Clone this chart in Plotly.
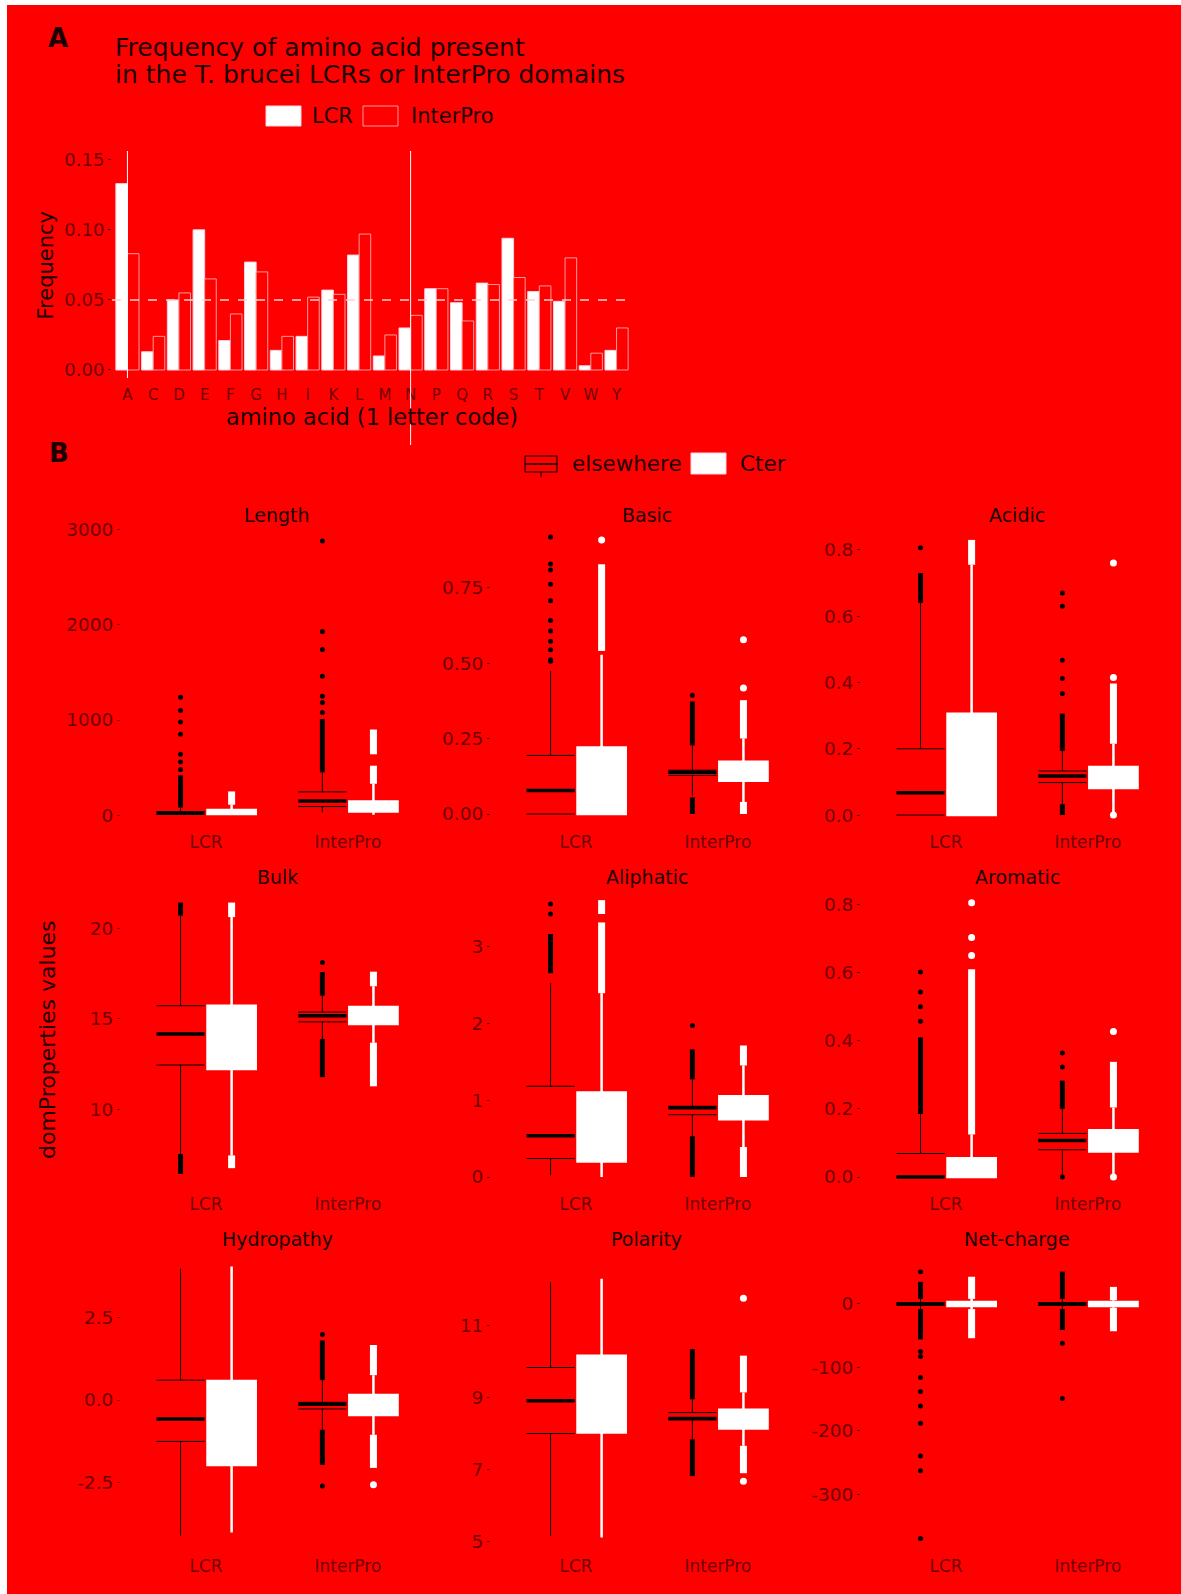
import plotly.graph_objects as go

W, H = 1181, 1594
BG = "#ff0000"
INK = "#1a0000"
TICK = "#6e0000"
FONT = "DejaVu Sans"

# ---------------- Panel A data ----------------
amino_acids = ["A", "C", "D", "E", "F", "G", "H", "I", "K", "L",
               "M", "N", "P", "Q", "R", "S", "T", "V", "W", "Y"]
freq_lcr = [0.133, 0.013, 0.050, 0.100, 0.021, 0.077, 0.014, 0.024, 0.057, 0.082,
            0.010, 0.030, 0.058, 0.048, 0.062, 0.094, 0.056, 0.049, 0.003, 0.014]
freq_interpro = [0.083, 0.024, 0.055, 0.065, 0.040, 0.070, 0.024, 0.052, 0.054, 0.097,
                 0.025, 0.039, 0.058, 0.035, 0.061, 0.066, 0.060, 0.080, 0.012, 0.030]
uniform_freq = 0.05
freq_ticks = [0.00, 0.05, 0.10, 0.15]
freq_ticktext = ["0.00", "0.05", "0.10", "0.15"]

# ---------------- Panel B data ----------------
properties = ["Length", "Basic", "Acidic", "Bulk", "Aliphatic", "Aromatic",
              "Hydropathy", "Polarity", "Net-charge"]
regions = ["LCR", "InterPro"]

# box statistics per property: [LCR, InterPro]
els_q1 = {"Length": [10, 91], "Basic": [0.0, 0.128], "Acidic": [0.0, 0.098],
          "Bulk": [12.47, 14.84], "Aliphatic": [0.24, 0.81], "Aromatic": [0.0, 0.08],
          "Hydropathy": [-1.25, -0.27], "Polarity": [8.0, 8.38], "Net-charge": [-2, -2]}
els_med = {"Length": [22, 150], "Basic": [0.078, 0.138], "Acidic": [0.067, 0.118],
           "Bulk": [14.18, 15.18], "Aliphatic": [0.535, 0.90], "Aromatic": [0.0, 0.107],
           "Hydropathy": [-0.57, -0.13], "Polarity": [8.91, 8.42], "Net-charge": [0, 0]}
els_q3 = {"Length": [38, 245], "Basic": [0.194, 0.145], "Acidic": [0.2, 0.133],
          "Bulk": [15.73, 15.38], "Aliphatic": [1.18, 0.92], "Aromatic": [0.069, 0.128],
          "Hydropathy": [0.60, -0.07], "Polarity": [9.83, 8.58], "Net-charge": [2, 2]}
els_lo = {"Length": [3, 30], "Basic": [0.0, 0.06], "Acidic": [0.0, 0.033],
          "Bulk": [7.58, 13.9], "Aliphatic": [0.02, 0.53], "Aromatic": [0.0, 0.0],
          "Hydropathy": [-4.1, -0.9], "Polarity": [5.16, 7.84], "Net-charge": [-8, -8]}
els_hi = {"Length": [80, 450], "Basic": [0.473, 0.227], "Acidic": [0.64, 0.194],
          "Bulk": [20.68, 16.28], "Aliphatic": [2.52, 1.27], "Aromatic": [0.185, 0.2],
          "Hydropathy": [3.97, 0.6], "Polarity": [12.19, 8.95], "Net-charge": [8, 8]}
# dense runs of outliers (low, high) and isolated outliers
els_runs = {"Length": [[(80, 420)], [(450, 1010)]],
            "Basic": [[], [(0.227, 0.373), (0.0, 0.055)]],
            "Acidic": [[(0.64, 0.73)], [(0.194, 0.306), (0.0, 0.033)]],
            "Bulk": [[(20.68, 21.4), (6.48, 7.58)], [(16.28, 17.58), (11.8, 13.9)]],
            "Aliphatic": [[(2.65, 3.16)], [(1.27, 1.66), (0.0, 0.53)]],
            "Aromatic": [[(0.185, 0.41)], [(0.2, 0.283)]],
            "Hydropathy": [[], [(0.6, 1.8), (-1.96, -0.9)]],
            "Polarity": [[], [(8.95, 10.34), (6.82, 7.84)]],
            "Net-charge": [[(8, 35), (-56, -8)], [(8, 51), (-41, -8)]]}
els_pts = {"Length": [[480, 560, 640, 850, 980, 1100, 1240],
                      [1080, 1185, 1250, 1460, 1740, 1930, 2880]],
           "Basic": [[0.506, 0.511, 0.544, 0.572, 0.606, 0.641, 0.706, 0.761, 0.808, 0.828, 0.917],
                     [0.393]],
           "Acidic": [[0.806], [0.367, 0.412, 0.467, 0.63, 0.67]],
           "Bulk": [[], [18.1]],
           "Aliphatic": [[3.42, 3.55], [1.97]],
           "Aromatic": [[0.457, 0.5, 0.543, 0.602], [0.323, 0.364, 0.0]],
           "Hydropathy": [[], [1.98, -2.6]],
           "Polarity": [[], []],
           "Net-charge": [[51, -75, -83, -116, -138, -161, -188, -240, -263, -370],
                          [-62, -149]]}

cter_q1 = {"Length": [12, 40], "Basic": [0.0, 0.11], "Acidic": [0.0, 0.082],
           "Bulk": [12.25, 14.73], "Aliphatic": [0.2, 0.75], "Aromatic": [0.0, 0.075],
           "Hydropathy": [-1.96, -0.45], "Polarity": [8.03, 8.14], "Net-charge": [-3, -3]}
cter_med = {"Length": [28, 80], "Basic": [0.1, 0.14], "Acidic": [0.12, 0.11],
            "Bulk": [14.0, 15.2], "Aliphatic": [0.5, 0.9], "Aromatic": [0.02, 0.1],
            "Hydropathy": [-0.6, -0.15], "Polarity": [9.0, 8.4], "Net-charge": [0, 0]}
cter_q3 = {"Length": [55, 145], "Basic": [0.22, 0.173], "Acidic": [0.306, 0.145],
           "Bulk": [15.73, 15.66], "Aliphatic": [1.10, 1.05], "Aromatic": [0.055, 0.137],
           "Hydropathy": [0.57, 0.15], "Polarity": [10.16, 8.66], "Net-charge": [3, 3]}
cter_lo = {"Length": [2, 5], "Basic": [0.0, 0.04], "Acidic": [0.0, 0.0],
           "Bulk": [7.5, 13.7], "Aliphatic": [0.0, 0.39], "Aromatic": [0.0, 0.0],
           "Hydropathy": [-4.0, -1.05], "Polarity": [5.12, 7.66], "Net-charge": [-8, -6]}
cter_hi = {"Length": [110, 330], "Basic": [0.527, 0.25], "Acidic": [0.755, 0.215],
           "Bulk": [20.6, 16.8], "Aliphatic": [2.39, 1.45], "Aromatic": [0.125, 0.204],
           "Hydropathy": [4.03, 0.75], "Polarity": [12.29, 9.14], "Net-charge": [8, 6]}
cter_runs = {"Length": [[(110, 250)], [(330, 520), (640, 900)]],
             "Basic": [[(0.54, 0.827)], [(0.25, 0.377), (0.0, 0.04)]],
             "Acidic": [[(0.755, 0.83)], [(0.215, 0.397)]],
             "Bulk": [[(20.6, 21.4), (6.8, 7.5)], [(16.8, 17.6), (11.3, 13.7)]],
             "Aliphatic": [[(2.39, 3.31), (3.42, 3.6)], [(1.45, 1.71), (0.0, 0.39)]],
             "Aromatic": [[(0.125, 0.61)], [(0.204, 0.338)]],
             "Hydropathy": [[], [(0.75, 1.66), (-2.05, -1.05)]],
             "Polarity": [[], [(9.14, 10.16), (6.9, 7.66)]],
             "Net-charge": [[(8, 43), (-54, -8)], [(6, 27), (-43, -6)]]}
cter_pts = {"Length": [[], []], "Basic": [[0.907], [0.417, 0.577]],
            "Acidic": [[], [0.415, 0.76, 0.0]], "Bulk": [[], []],
            "Aliphatic": [[], []], "Aromatic": [[0.65, 0.703, 0.805], [0.427, 0.0]],
            "Hydropathy": [[], [-2.56]], "Polarity": [[], [11.75, 6.68]],
            "Net-charge": [[], []]}

prop_ticks = {"Length": [0, 1000, 2000, 3000], "Basic": [0, 0.25, 0.5, 0.75],
              "Acidic": [0, 0.2, 0.4, 0.6, 0.8], "Bulk": [10, 15, 20],
              "Aliphatic": [0, 1, 2, 3], "Aromatic": [0, 0.2, 0.4, 0.6, 0.8],
              "Hydropathy": [-2.5, 0, 2.5], "Polarity": [5, 7, 9, 11],
              "Net-charge": [-300, -200, -100, 0]}
prop_ticktext = {"Length": ["0", "1000", "2000", "3000"],
                 "Basic": ["0.00", "0.25", "0.50", "0.75"],
                 "Acidic": ["0.0", "0.2", "0.4", "0.6", "0.8"],
                 "Bulk": ["10", "15", "20"], "Aliphatic": ["0", "1", "2", "3"],
                 "Aromatic": ["0.0", "0.2", "0.4", "0.6", "0.8"],
                 "Hydropathy": ["-2.5", "0.0", "2.5"], "Polarity": ["5", "7", "9", "11"],
                 "Net-charge": ["-300", "-200", "-100", "0"]}
# free y scales of the facets
prop_range = {"Length": [-155, 3079], "Basic": [-0.053, 0.967], "Acidic": [-0.045, 0.884],
              "Bulk": [5.49, 22.42], "Aliphatic": [-0.195, 3.81], "Aromatic": [-0.044, 0.86],
              "Hydropathy": [-4.65, 4.65], "Polarity": [4.66, 13.2], "Net-charge": [-394.5, 91.5]}

# ---------------- helpers ----------------
def px_x(p):
    return p / W


def px_y(p):
    return 1 - p / H


fig = go.Figure()
layout = dict(width=W, height=H, margin=dict(l=0, r=0, t=0, b=0, pad=0, autoexpand=False),
              paper_bgcolor=BG, plot_bgcolor=BG, showlegend=False,
              font=dict(family=FONT, color=INK), shapes=[], annotations=[])

# ---------------- Panel A ----------------
fig.add_trace(go.Bar(x=amino_acids, y=freq_lcr, name="LCR",
                     marker=dict(color="white", line=dict(color="#ffd0e0", width=1)),
                     xaxis="x", yaxis="y", offsetgroup="lcr"))
fig.add_trace(go.Bar(x=amino_acids, y=freq_interpro, name="InterPro",
                     marker=dict(color=BG, line=dict(color="#ff9a9a", width=1)),
                     xaxis="x", yaxis="y", offsetgroup="ip"))
layout["barmode"] = "group"
layout["bargap"] = 0.1
layout["bargroupgap"] = 0.0
layout["xaxis"] = dict(domain=[px_x(112), px_x(632)], range=[-0.6, len(amino_acids) - 0.4],
                       type="category", anchor="y", showgrid=False, zeroline=False, showline=False,
                       automargin=False, ticks="", ticklabelstandoff=3,
                       tickfont=dict(size=15, color=TICK, family=FONT),
                       title=dict(text="amino acid (1 letter code)", font=dict(size=22.5, color=INK),
                                  standoff=0))
layout["yaxis"] = dict(domain=[px_y(380.5), px_y(150)], range=[-0.0075, 0.157], anchor="x",
                       tickvals=freq_ticks, ticktext=freq_ticktext, showgrid=False, zeroline=False,
                       automargin=False,
                       ticks="outside", ticklen=3, tickcolor=TICK,
                       tickfont=dict(size=18, color=TICK, family=FONT),
                       title=dict(text="Frequency", font=dict(size=21, color=INK), standoff=4))
layout["shapes"].append(dict(type="line", xref="x", yref="y", x0=-0.6, x1=len(amino_acids) - 0.4,
                             y0=uniform_freq, y1=uniform_freq,
                             line=dict(color="#ffd0d0", width=1.5, dash="dash"), layer="above"))
for aa_mark, ybot in (("A", 378), ("N", 445)):
    layout["shapes"].append(dict(type="line", xref="x", yref="paper", x0=aa_mark, x1=aa_mark,
                                 y0=px_y(ybot), y1=px_y(151), line=dict(color="white", width=1)))

# title, panel labels, legends
layout["annotations"] += [
    dict(text="<b>A</b>", x=px_x(58), y=px_y(38), xref="paper", yref="paper", showarrow=False,
         font=dict(size=26, color=INK), xanchor="center", yanchor="middle"),
    dict(text="<b>B</b>", x=px_x(59), y=px_y(453), xref="paper", yref="paper", showarrow=False,
         font=dict(size=26, color=INK), xanchor="center", yanchor="middle"),
    dict(text="Frequency of amino acid present", x=px_x(113), y=px_y(47), xref="paper", yref="paper",
         showarrow=False, font=dict(size=25, color=INK), xanchor="left", yanchor="middle"),
    dict(text="in the T. brucei LCRs or InterPro domains", x=px_x(113), y=px_y(75), xref="paper",
         yref="paper", showarrow=False, font=dict(size=25, color=INK), xanchor="left", yanchor="middle"),
    dict(text="LCR", x=px_x(310), y=px_y(116), xref="paper", yref="paper", showarrow=False,
         font=dict(size=21, color=INK), xanchor="left", yanchor="middle"),
    dict(text="InterPro", x=px_x(409), y=px_y(116), xref="paper", yref="paper", showarrow=False,
         font=dict(size=21, color=INK), xanchor="left", yanchor="middle"),
    dict(text="elsewhere", x=px_x(570), y=px_y(463), xref="paper", yref="paper", showarrow=False,
         font=dict(size=21.5, color=INK), xanchor="left", yanchor="middle"),
    dict(text="Cter", x=px_x(738), y=px_y(463), xref="paper", yref="paper", showarrow=False,
         font=dict(size=21.5, color=INK), xanchor="left", yanchor="middle"),
    dict(text="domProperties values", x=px_x(47), y=px_y(1040), xref="paper", yref="paper",
         showarrow=False, textangle=-90, font=dict(size=22, color=INK),
         xanchor="center", yanchor="middle"),
]
layout["shapes"] += [
    dict(type="rect", xref="paper", yref="paper", x0=px_x(266), x1=px_x(301), y0=px_y(126), y1=px_y(106),
         fillcolor="white", line=dict(color="#ffd0e0", width=1)),
    dict(type="rect", xref="paper", yref="paper", x0=px_x(363), x1=px_x(398), y0=px_y(126), y1=px_y(106),
         fillcolor=BG, line=dict(color="#ff9a9a", width=1)),
    dict(type="rect", xref="paper", yref="paper", x0=px_x(525), x1=px_x(557), y0=px_y(472), y1=px_y(456),
         fillcolor=BG, line=dict(color="black", width=1)),
    dict(type="line", xref="paper", yref="paper", x0=px_x(525), x1=px_x(557), y0=px_y(464), y1=px_y(464),
         line=dict(color="black", width=1.5)),
    dict(type="line", xref="paper", yref="paper", x0=px_x(541), x1=px_x(541), y0=px_y(472), y1=px_y(477),
         line=dict(color="black", width=1)),
    dict(type="rect", xref="paper", yref="paper", x0=px_x(691), x1=px_x(726), y0=px_y(474), y1=px_y(453),
         fillcolor="white", line=dict(color="#ffd0e0", width=1)),
    # white margins of the original image
    dict(type="rect", xref="paper", yref="paper", x0=0, x1=px_x(7), y0=0, y1=1,
         fillcolor="white", line=dict(width=0), layer="below"),
    dict(type="rect", xref="paper", yref="paper", x0=0, x1=1, y0=px_y(5), y1=1,
         fillcolor="white", line=dict(width=0), layer="below"),
]

# ---------------- Panel B ----------------
col_px = [(121, 433), (491, 803), (861, 1173)]
row_px = [(522, 830), (884, 1192), (1246, 1554)]
OFF = 0.18
BW = 0.34

for i, prop in enumerate(properties):
    r, c = divmod(i, 3)
    xa = "x%d" % (i + 2)
    ya = "y%d" % (i + 2)

    for g, reg in enumerate(regions):
        # ----- elsewhere (outlined box) -----
        p = g + 1 - OFF
        xl, xr = p - BW / 2, p + BW / 2
        fig.add_trace(go.Scatter(x=[p, p, None, p, p],
                                 y=[els_q3[prop][g], els_hi[prop][g], None, els_lo[prop][g], els_q1[prop][g]],
                                 mode="lines", line=dict(color="black", width=1), xaxis=xa, yaxis=ya,
                                 hoverinfo="skip"))
        fig.add_trace(go.Scatter(x=[xl, xr, None, xl, xr],
                                 y=[els_q1[prop][g], els_q1[prop][g], None, els_q3[prop][g], els_q3[prop][g]],
                                 mode="lines", line=dict(color="black", width=1), xaxis=xa, yaxis=ya,
                                 hoverinfo="skip"))
        fig.add_trace(go.Scatter(x=[xl, xr], y=[els_med[prop][g], els_med[prop][g]],
                                 mode="lines", line=dict(color="black", width=3.5), xaxis=xa, yaxis=ya,
                                 hoverinfo="skip"))
        for a, b in els_runs[prop][g]:
            fig.add_trace(go.Scatter(x=[p, p], y=[a, b], mode="lines",
                                     line=dict(color="black", width=5), xaxis=xa, yaxis=ya,
                                     hoverinfo="skip"))
        if els_pts[prop][g]:
            fig.add_trace(go.Scatter(x=[p] * len(els_pts[prop][g]), y=els_pts[prop][g], mode="markers",
                                     marker=dict(color="black", size=5), xaxis=xa, yaxis=ya,
                                     hoverinfo="skip"))
        # ----- Cter (white box) -----
        q = g + 1 + OFF
        fig.add_trace(go.Box(x=[q], q1=[cter_q1[prop][g]], median=[cter_med[prop][g]],
                             q3=[cter_q3[prop][g]], lowerfence=[cter_lo[prop][g]],
                             upperfence=[cter_hi[prop][g]], width=BW, whiskerwidth=0,
                             fillcolor="white", line=dict(color="white", width=2.5),
                             boxpoints=False, xaxis=xa, yaxis=ya, hoverinfo="skip"))
        for a, b in cter_runs[prop][g]:
            fig.add_trace(go.Scatter(x=[q, q], y=[a, b], mode="lines",
                                     line=dict(color="white", width=7), xaxis=xa, yaxis=ya,
                                     hoverinfo="skip"))
        if cter_pts[prop][g]:
            fig.add_trace(go.Scatter(x=[q] * len(cter_pts[prop][g]), y=cter_pts[prop][g], mode="markers",
                                     marker=dict(color="white", size=7), xaxis=xa, yaxis=ya,
                                     hoverinfo="skip"))

    x0, x1 = col_px[c]
    y0, y1 = row_px[r]
    layout["xaxis%d" % (i + 2)] = dict(domain=[px_x(x0), px_x(x1)], range=[0.4, 2.6], anchor=ya,
                                       tickvals=[1, 2], ticktext=regions, showgrid=False,
                                       zeroline=False, automargin=False, ticks="",
                                       ticklabelstandoff=0,
                                       tickfont=dict(size=17, color=TICK, family=FONT))
    layout["yaxis%d" % (i + 2)] = dict(domain=[px_y(y1), px_y(y0)], range=prop_range[prop],
                                       anchor=xa, tickvals=prop_ticks[prop],
                                       ticktext=prop_ticktext[prop], showgrid=False, zeroline=False,
                                       automargin=False,
                                       ticks="outside", ticklen=3, tickcolor=TICK,
                                       tickfont=dict(size=18.5, color=TICK, family=FONT))
    layout["annotations"].append(dict(text=prop, x=px_x((x0 + x1) / 2), y=px_y(y0 - 7), xref="paper",
                                      yref="paper", showarrow=False, font=dict(size=19, color=INK),
                                      xanchor="center", yanchor="middle"))

fig.update_layout(**layout)
fig.write_html(
    "out.html",
    config={"displayModeBar": False},
    post_script=("document.body.style.margin='0px';document.body.style.overflow='hidden';"
                 "var gd=document.getElementById('{plot_id}');gd.style.position='absolute';"
                 "gd.style.top='0px';gd.style.left='0px';"),
)
